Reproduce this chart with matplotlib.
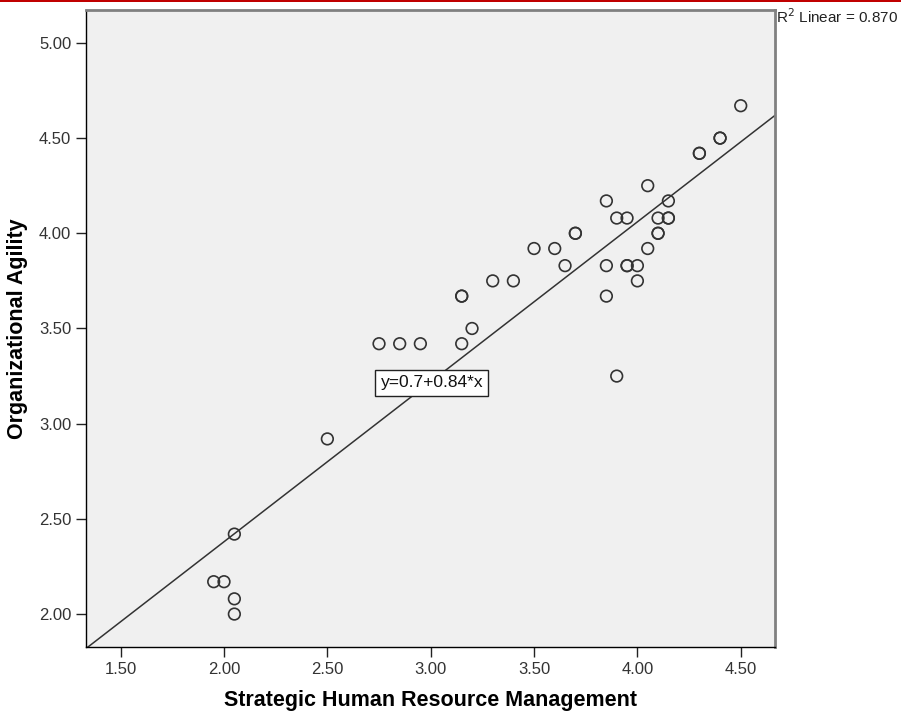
import numpy as np
import matplotlib.pyplot as plt
import matplotlib.patches as mpatches

plt.rcParams['font.family'] = ['Liberation Sans', 'DejaVu Sans']

# Strategic HRM (x) vs Organizational Agility (y)
shrm = [4.50, 4.40, 4.40, 4.30, 4.30, 4.05, 3.85, 4.15,
        3.90, 3.95, 4.10, 4.15, 4.15,
        3.70, 3.70, 4.10, 4.10,
        3.50, 3.60, 4.05,
        3.65, 3.85, 3.95, 3.95, 4.00,
        3.30, 3.40, 4.00,
        3.85, 3.15, 3.15,
        3.20,
        2.75, 2.85, 2.95, 3.15,
        3.90, 2.50, 2.05,
        1.95, 2.00, 2.05, 2.05]
agility = [4.67, 4.50, 4.50, 4.42, 4.42, 4.25, 4.17, 4.17,
           4.08, 4.08, 4.08, 4.08, 4.08,
           4.00, 4.00, 4.00, 4.00,
           3.92, 3.92, 3.92,
           3.83, 3.83, 3.83, 3.83, 3.83,
           3.75, 3.75, 3.75,
           3.67, 3.67, 3.67,
           3.50,
           3.42, 3.42, 3.42, 3.42,
           3.25, 2.92, 2.42,
           2.17, 2.17, 2.08, 2.00]

intercept = 0.7
slope = 0.84
r2 = 0.870

xticks = [1.5, 2.0, 2.5, 3.0, 3.5, 4.0, 4.5]
yticks = [2.0, 2.5, 3.0, 3.5, 4.0, 4.5, 5.0]

fig = plt.figure(figsize=(9.01, 7.11), dpi=100)
ax = fig.add_axes([0.0954, 0.090, 0.7648, 0.896])
ax.set_facecolor('#f0f0f0')

ax.scatter(shrm, agility, s=70, facecolors='none', edgecolors='#333333',
           linewidths=1.2, zorder=3)

xlo, xhi = 1.332, 4.666
ax.set_xlim(xlo, xhi)
ax.set_ylim(1.827, 5.173)

xs = np.array([xlo, xhi])
ax.plot(xs, intercept + slope * xs, color='#333333', linewidth=1.1, zorder=2)

ax.text(3.006, 3.214, "y=0.7+0.84*x", fontsize=12.5, ha='center', va='center',
        color='#111111', zorder=4,
        bbox=dict(boxstyle='square,pad=0.3', facecolor='white',
                  edgecolor='#222222', linewidth=1.0))

ax.set_xticks(xticks)
ax.set_xticklabels(["%.2f" % v for v in xticks])
ax.set_yticks(yticks)
ax.set_yticklabels(["%.2f" % v for v in yticks])
ax.tick_params(direction='out', length=7, width=1, colors='#222222',
               labelsize=12, labelcolor='#333333')
ax.tick_params(axis='x', pad=4)

ax.spines['left'].set_color('black')
ax.spines['bottom'].set_color('black')
ax.spines['left'].set_linewidth(1)
ax.spines['bottom'].set_linewidth(1)
for side in ['top', 'right']:
    ax.spines[side].set_color('#808080')
    ax.spines[side].set_linewidth(2)

ax.set_xlabel("Strategic Human Resource Management", fontsize=15.5,
              fontweight='bold', labelpad=9)
ax.set_ylabel("Organizational Agility", fontsize=15.5, fontweight='bold',
              labelpad=8)

fig.text(0.861, 0.976, "R$^2$ Linear = 0.870", fontsize=11, ha='left',
         va='center', color='#222222')

# red rule along the top edge
fig.patches.append(mpatches.Rectangle((0, 0.9975), 1, 0.0025,
                                      transform=fig.transFigure,
                                      facecolor='#c00000', edgecolor='none'))

plt.savefig('out.png', dpi=100)
